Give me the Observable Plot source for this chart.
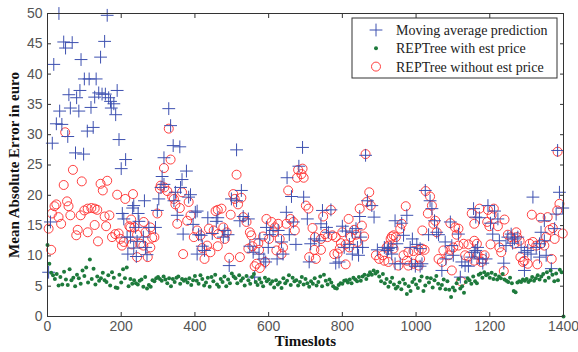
<!DOCTYPE html>
<html><head><meta charset="utf-8">
<script src="https://cdn.jsdelivr.net/npm/d3@7"></script>
<script src="https://cdn.jsdelivr.net/npm/@observablehq/plot@0.6"></script>
<style>body{margin:0;background:#fff;} svg{display:block;}</style>
</head><body><div id="chart"></div>
<script>
const seriesNames = ["Moving average prediction", "REPTree with est price", "REPTree without est price"];
const xTicks = [0, 200, 400, 600, 800, 1000, 1200, 1400];
const yTicks = [0, 5, 10, 15, 20, 25, 30, 35, 40, 45, 50];

// Moving average prediction: [timeslot, error]
const maPoints = [
[3,7.3],[8,15.6],[13,28.6],[17,41.6],[24,31.8],[31,50],[33,33.9],[39,31.7],[44,45.3],[49,44.3],
[55,29.7],[58,36.6],[62,34.4],[67,45.2],[76,27],[79,36.1],[85,33.9],[88,37.3],[91,42.4],[98,26.8],
[100,39.2],[108,30.6],[113,39.2],[118,34.5],[124,31.2],[128,36.2],[132,39.2],[139,36.9],[144,42.8],[148,36.7],
[155,45.4],[157,36.7],[162,49.7],[166,36.1],[171,35.5],[173,34.4],[180,35.1],[185,33.3],[189,37.3],[194,29.2],
[200,24.4],[203,17],[207,16.1],[212,25.9],[216,13.1],[218,10.3],[225,13.1],[231,17.9],[234,18.3],[234,11.3],
[239,14.7],[241,9.9],[243,12.4],[246,17],[248,15.7],[260,13.1],[263,19.1],[266,11.4],[270,10.2],[275,14.7],
[293,14.7],[298,17.5],[302,19.4],[308,21.3],[311,23.1],[316,26.2],[316,21.8],[329,34.3],[334,31.5],[341,28.2],
[343,19.1],[347,20.5],[352,16.7],[359,28],[361,21.3],[365,22.6],[368,13.6],[377,24],[383,19.7],[388,20.1],
[395,15.2],[401,17.2],[406,17.4],[406,10.3],[410,13.5],[417,13.4],[420,11.6],[426,10.9],[435,16.3],[447,13.7],
[458,15.7],[462,16.3],[477,13.1],[481,14.2],[490,13.5],[493,8.4],[499,19.4],[513,27.5],[513,19.1],[522,15.8],
[526,20.8],[531,16.5],[545,16.1],[549,11.6],[558,10.6],[562,6.5],[574,10.3],[576,12.8],[587,9.5],[592,9],
[594,14.7],[599,11.4],[603,13.5],[612,14.2],[623,9.5],[626,14.2],[635,12.3],[639,10.3],[648,17.2],[650,22.9],
[656,13.5],[662,19.8],[667,15.6],[674,11.9],[682,24.8],[692,27.9],[695,19.7],[705,16.1],[710,9],[714,12],
[724,12.8],[737,12.5],[742,15.3],[746,17.5],[757,14.7],[762,13.9],[769,17.6],[782,8.8],[791,9],[800,14.9],
[805,11.4],[809,14.1],[819,11.9],[827,13.9],[827,10.3],[837,14.5],[841,11.4],[844,10.1],[847,16.5],[850,13.1],
[855,11.4],[863,26.6],[868,19.1],[880,18.3],[886,16.4],[895,11],[914,11.4],[922,10.9],[925,11.2],[932,11.4],
[934,10.3],[943,15.8],[943,8.7],[948,12],[957,8.7],[961,15.4],[966,13.4],[975,16.7],[984,11.4],[988,8.7],
[990,12.8],[998,8.3],[1002,11.9],[1011,11.2],[1011,8.3],[1016,8.7],[1025,20.8],[1034,13.5],[1038,19.1],[1043,17.8],
[1050,15.8],[1056,13.9],[1061,13.5],[1070,7.6],[1079,12.3],[1081,9.5],[1093,15.6],[1097,11.7],[1101,10.1],[1115,13.6],
[1120,6.5],[1124,9],[1133,8.4],[1142,8.3],[1151,9.8],[1156,17.8],[1158,10.6],[1162,16.4],[1162,10.9],[1167,11.4],
[1172,16.3],[1172,9.5],[1181,8.8],[1190,9.5],[1195,18.3],[1202,15.4],[1208,13.6],[1213,17.4],[1222,16.1],[1226,12.5],
[1238,8.8],[1244,11.7],[1249,13.1],[1258,13.6],[1262,12.1],[1267,12.8],[1276,13.1],[1285,11.4],[1294,10.6],[1294,7.6],
[1303,10.9],[1312,10.3],[1317,19.7],[1326,11.4],[1335,12],[1335,9.8],[1339,13.9],[1348,15.8],[1348,12.5],[1353,10.1],
[1367,7.9],[1376,14.5],[1380,16.9],[1384,27.4],[1389,20.5],[1398,17.9]
];

// REPTree with est price: one value every 5 timeslots, 0..1400
const withStart = 0, withStep = 5;
const withValues = [
11.8,8.7,7.2,6.8,6.2,7.0,5.1,6.5,5.3,7.4,6.1,5.2,7.8,6.0,6.4,5.0,6.9,6.3,5.4,7.6,
6.7,8.1,5.6,9.4,6.2,7.9,5.3,6.6,5.9,6.3,7.2,6.0,5.7,6.8,5.1,7.3,6.4,4.8,4.7,6.9,
5.6,7.8,6.3,8.1,5.0,6.2,5.4,6.0,5.5,5.3,5.9,6.1,4.9,6.5,4.6,5.2,4.9,6.0,5.8,6.3,
6.5,6.2,5.9,6.6,6.1,5.5,6.3,5.0,6.2,5.7,6.4,6.6,5.4,6.2,5.9,6.1,5.6,6.3,5.2,6.0,
6.7,5.9,5.4,6.8,6.2,5.1,5.6,6.4,4.9,6.5,5.8,6.9,5.3,4.9,6.2,5.7,6.6,5.0,6.1,5.5,
7.1,6.6,6.3,5.5,6.8,5.9,6.3,5.1,6.7,6.0,5.4,6.5,7.0,5.7,5.2,6.2,5.6,5.0,6.4,5.8,
6.1,5.4,5.8,4.8,6.0,5.3,5.6,4.7,6.3,5.5,5.9,6.8,5.2,6.4,5.8,6.0,5.1,5.7,6.5,5.3,
6.2,5.5,4.9,5.8,5.4,6.3,5.1,5.7,6.6,5.0,6.9,5.9,5.3,6.1,5.6,5.0,4.7,4.6,5.2,5.5,
5.4,5.9,6.0,5.6,6.1,5.5,6.4,6.1,5.8,6.5,5.9,6.6,6.9,6.2,6.8,7.3,6.9,7.6,7.1,7.4,
6.6,5.8,7.0,5.5,6.2,4.9,5.7,6.4,5.3,4.6,4.9,5.6,4.5,6.1,5.4,3.7,5.0,4.2,5.7,6.2,
5.3,4.7,5.9,6.6,4.2,5.1,6.4,5.6,6.3,4.8,6.0,6.7,5.4,4.6,5.2,6.1,4.5,5.8,4.4,3.2,
4.8,4.3,5.5,6.2,4.6,5.0,3.9,5.7,6.3,6.0,5.4,6.6,5.8,5.5,6.9,7.1,6.4,7.3,6.8,7.0,
6.4,7.2,6.2,6.9,6.1,6.6,6.3,7.0,6.1,5.9,5.7,6.4,5.5,4.2,4.0,5.6,5.8,5.7,6.1,5.9,
6.2,5.7,6.0,6.5,5.9,6.3,6.8,6.1,6.6,7.0,5.9,7.3,6.4,7.6,6.9,5.8,7.1,6.0,7.7,7.3,
0
];

// REPTree without est price: [timeslot, error]
const withoutPoints = [
[3,14.5],[10,11],[12,17],[19,18.2],[24,18.5],[30,16.4],[37,15.3],[44,21.7],[48,30.4],[53,19],
[57,18.2],[62,16.7],[69,24.2],[78,13.4],[82,14.3],[90,16.7],[93,22.3],[100,17.5],[109,17.8],[109,13.9],
[119,17.9],[128,17.8],[128,15.1],[135,17.6],[137,12.4],[144,21.9],[150,20.8],[155,16.5],[159,14.9],[162,22.4],
[168,16.7],[175,13.1],[184,13.6],[189,20.1],[193,13.7],[198,12.8],[202,11.7],[207,12.3],[211,19.4],[222,14.9],
[225,14.7],[227,16],[229,11.9],[232,20.2],[236,14.7],[243,13.5],[243,9.8],[252,12],[260,11.7],[261,15.6],
[266,13.9],[272,9.8],[279,14.7],[279,11.4],[284,13],[290,13.1],[298,17],[305,21.1],[307,21.6],[317,21.3],
[316,24.5],[325,20.7],[329,31],[334,25.9],[338,19.8],[343,19.4],[347,18.5],[352,15.3],[359,17.9],[365,20.5],
[368,10.3],[379,15.8],[383,18.9],[388,16.7],[397,13.1],[406,14.2],[415,13.4],[420,11.3],[426,9.5],[433,11.7],
[438,14.5],[442,10.6],[451,14.2],[456,17.4],[462,17.6],[462,11.6],[463,13.6],[472,17.8],[477,14.7],[481,12.8],
[486,13.9],[493,9.7],[497,16.8],[504,20.2],[508,19.4],[513,23.4],[517,18.5],[522,9.8],[526,19.6],[531,16.4],
[540,15.6],[545,11.2],[549,13.9],[553,13.4],[556,11.6],[562,8.3],[567,8.7],[572,12.1],[574,11],[576,8],
[585,13.2],[590,9],[594,16.1],[601,12.8],[608,15.6],[614,13.9],[617,14.7],[621,10.9],[626,15.3],[630,12.8],
[635,10.3],[639,11.4],[648,15.3],[653,20.8],[659,16.1],[667,15.6],[671,14.2],[677,22.9],[680,24.2],[689,23.5],
[692,24.4],[695,22.9],[701,18.3],[708,17.8],[710,9.8],[719,14.6],[724,11],[726,13.1],[728,9.5],[742,12.8],
[742,11],[748,16.5],[753,13.6],[760,13.1],[769,17.6],[773,13.4],[778,10.3],[782,13.1],[787,10.4],[793,11.2],
[796,12.1],[800,13.9],[809,11.9],[809,8.6],[817,16.1],[819,11.4],[823,13.1],[832,14.3],[837,13.5],[841,12.3],
[847,17.8],[853,15],[859,13.2],[863,26.8],[866,18.9],[873,20.5],[877,18.3],[891,10.1],[900,9.5],[909,10.1],
[914,9.2],[920,11.4],[925,11.7],[925,9],[931,12.8],[934,13.2],[939,13.4],[939,11.2],[945,13.1],[952,8.4],
[957,14.5],[961,15.3],[966,10.1],[972,18.2],[975,9.2],[979,10.6],[979,8.4],[993,10.8],[993,8.7],[1007,11],
[1007,8.4],[1011,9.5],[1016,11.2],[1017,14.2],[1023,11],[1026,20.7],[1032,17],[1038,19.8],[1043,18.3],[1047,15.3],
[1052,15.8],[1056,13.9],[1061,9.5],[1070,9],[1074,10.9],[1088,10.1],[1093,15.4],[1093,11],[1097,7.6],[1101,11.4],
[1106,14.7],[1110,13.5],[1115,14.5],[1115,11.7],[1122,5.8],[1129,12],[1133,10.1],[1142,11.9],[1142,9.9],[1151,17],
[1158,15.3],[1158,12.5],[1158,9.2],[1165,12],[1167,10.2],[1172,17.8],[1177,9],[1181,9.5],[1186,10.1],[1193,15.6],
[1195,17.6],[1199,14.9],[1202,11.9],[1205,16.7],[1211,17.8],[1222,14.9],[1226,11.4],[1231,10.6],[1238,7.5],[1240,16],
[1249,13.5],[1258,13.1],[1267,12],[1272,13.9],[1274,13.1],[1281,12.5],[1283,9.8],[1290,9],[1294,9.2],[1303,8.7],
[1308,12],[1314,16.8],[1317,12.3],[1326,11.7],[1329,8.6],[1338,16.3],[1339,12],[1348,11.7],[1353,13.1],[1357,16.4],
[1362,14.3],[1368,9.5],[1371,14.6],[1376,12.8],[1383,17.5],[1384,27.2],[1389,18.6],[1398,13.7]
];

const colors = {ma: "#3d50b0", withP: "#1e7a3c", withoutP: "#ff2a2a"};

const maData = maPoints.map(([t, v]) => ({t, v}));
const withData = withValues.map((v, i) => ({t: withStart + i * withStep, v}));
const withoutData = withoutPoints.map(([t, v]) => ({t, v}));

const tickFont = "'Liberation Sans', Arial, sans-serif";
const serif = "'Liberation Serif', 'Times New Roman', serif";
const fmt = d => String(d);

const chart = Plot.plot({
  width: 578, height: 352,
  marginLeft: 47, marginRight: 15, marginTop: 13, marginBottom: 36,
  style: {background: "#fff", fontFamily: tickFont, fontSize: "14px", color: "#555"},
  x: {domain: [0, 1400], ticks: xTicks, label: null},
  y: {domain: [0, 50], ticks: yTicks, label: null},
  marks: [
    Plot.axisX({anchor: "bottom", ticks: xTicks, tickSize: -4, tickPadding: 9, tickFormat: fmt, label: null, fontSize: 14, stroke: "#333"}),
    Plot.axisX({anchor: "top", ticks: xTicks, tickSize: -4, tickFormat: () => "", label: null, stroke: "#333"}),
    Plot.axisY({anchor: "left", ticks: yTicks, tickSize: -4, tickPadding: 9, tickFormat: fmt, label: null, fontSize: 14, stroke: "#333"}),
    Plot.axisY({anchor: "right", ticks: yTicks, tickSize: -4, tickFormat: () => "", label: null, stroke: "#333"}),
    Plot.dot(withoutData, {x: "t", y: "v", r: 4.5, stroke: colors.withoutP, strokeWidth: 0.9, fill: "none"}),
    Plot.dot(maData, {x: "t", y: "v", r: 4.2, symbol: "plus", stroke: colors.ma, strokeWidth: 1}),
    Plot.dot(withData, {x: "t", y: "v", r: 2, fill: colors.withP, stroke: "none"}),
    Plot.frame({stroke: "#333", strokeWidth: 1}),
    Plot.text(["Mean Absolute Error in euro"], {frameAnchor: "left", textAnchor: "middle", rotate: -90, dx: -33, fontFamily: serif, fontWeight: "bold", fontSize: 15, fill: "#111"}),
    Plot.text(["Timeslots"], {frameAnchor: "bottom", textAnchor: "middle", dy: 29, fontFamily: serif, fontWeight: "bold", fontSize: 15, fill: "#111"})
  ]
});
document.getElementById("chart").appendChild(chart);

// legend box (top right, inside the plot)
const svg = d3.select(chart);
const lg = svg.append("g").attr("transform", "translate(352,18)").attr("text-anchor", "start");
lg.append("rect").attr("x", 0).attr("y", 0).attr("width", 205).attr("height", 60)
  .attr("fill", "#fff").attr("stroke", "#333").attr("stroke-width", 1);
const symPlus = d3.symbol(d3.symbolPlus, 4.2 * 4.2 * Math.PI)();
seriesNames.forEach((name, i) => {
  const y = 12 + i * 18.3;
  const g = lg.append("g").attr("transform", `translate(24,${y})`);
  if (i === 0) g.append("path").attr("d", symPlus).attr("stroke", colors.ma).attr("fill", "none");
  if (i === 1) g.append("circle").attr("r", 2).attr("fill", colors.withP);
  if (i === 2) g.append("circle").attr("r", 4.5).attr("fill", "none").attr("stroke", colors.withoutP).attr("stroke-width", 0.9);
  lg.append("text").attr("x", 44).attr("y", y).attr("dy", "0.35em").attr("text-anchor", "start")
    .attr("font-family", serif).attr("font-size", 14).attr("fill", "#222").text(name);
});
</script></body></html>
